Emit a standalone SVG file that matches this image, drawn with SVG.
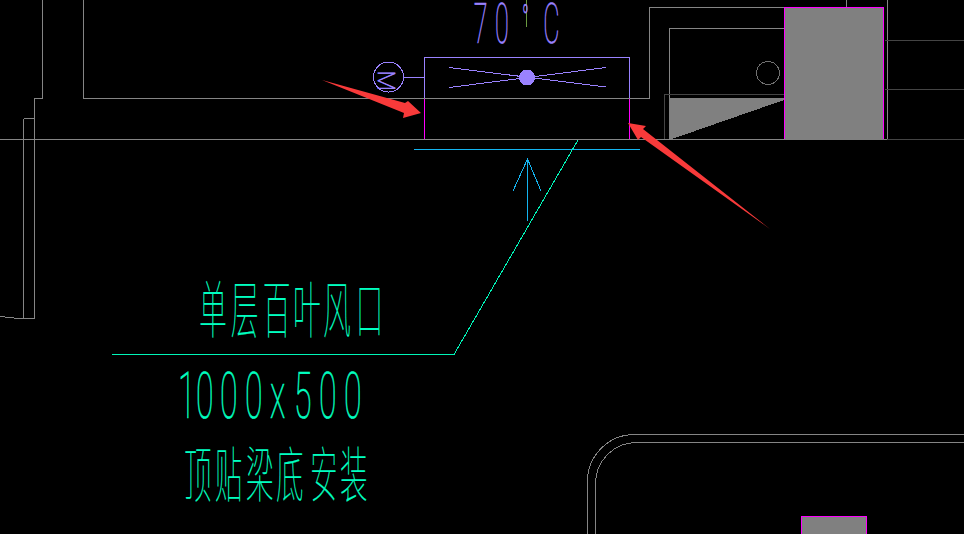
<svg xmlns="http://www.w3.org/2000/svg" width="964" height="534" viewBox="0 0 964 534">
<style>
path,circle,rect{shape-rendering:crispEdges}
.g{fill:none;stroke:#858585;stroke-width:1}
.d{fill:none;stroke:#444;stroke-width:1}
.m{fill:none;stroke:#f0f;stroke-width:1}
.p{fill:none;stroke:#9a82ff;stroke-width:1}
.c{fill:none;stroke:#14b4f0;stroke-width:1}
.t{fill:none;stroke:#00f5b8;stroke-width:1}
.cjk{font-family:"Noto Sans CJK SC","Noto Sans",sans-serif;font-weight:100;fill:#00ffc0;stroke:#00ffc0;stroke-width:.2}
.num{font-family:Roboto,"Liberation Sans",sans-serif;font-weight:100;fill:#00ffc0;stroke:#00ffc0;stroke-width:.7}
.pt{font-family:Roboto,"Liberation Sans",sans-serif;font-weight:100;fill:#9a82ff;stroke:#9a82ff;stroke-width:.7}
.r{fill:#f83a3a;shape-rendering:auto}
</style>
<rect width="964" height="534" fill="#000"/>
<g id="building">
<path class="g" d="M0 139.500H887M83.500 0V98.500H649.500V7.500H784M42.500 0V98.500H34.500V318.500H19L9 317.500L0 316.500M23.500 118.500H34.500M23.500 118.500V318.500M669.500 98V28.500H784"/>
<path class="g" d="M887.500 0V139M846.500 0V7"/>
<path class="d" d="M887 139.500H964M885 40.500H964M885 89.500H964M664.500 139V94.500H789.500V139"/>
<circle cx="768" cy="73" r="11.500" fill="none" stroke="#707070"/>
<path d="M669 98H784V100L672 139H669Z" fill="#808080"/>
<rect x="784.500" y="7.500" width="99" height="132" fill="#808080"/>
<path class="m" d="M784.500 139V7.500H883.500V139"/>
</g>
<g id="lower-room">
<path class="g" d="M587.500 534V482A47 47 0 0 1 634.500 434.500H964M595.500 534V484A41 41 0 0 1 636.500 442.500H964"/>
<rect x="801.500" y="516.500" width="65" height="20" fill="#808080" stroke="#f0f" stroke-width="1.500"/>
</g>
<g id="fan-unit">
<path class="p" d="M424.500 98V57.500H629.500V98M449 67.500L606 87M449 87.500L606 67.500"/>
<circle cx="527" cy="77.500" r="8" fill="#9a82ff"/>
<path class="m" d="M424.500 99V139M629.500 99V139"/>
</g>
<g id="motor">
<circle class="p" cx="388.500" cy="77" r="15"/>
<path class="p" d="M404 77.500H424"/>
<text class="pt" transform="translate(378,70.500) rotate(90)" font-size="24">M</text>
</g>
<g id="temp-label">
<path d="M526.500 0V27" fill="none" stroke="#6a9a40"/>
<text class="pt" font-size="56" transform="translate(0,43) scale(.45,1)" x="1053 1100 1160 1207">70<tspan font-size="40" dy="-10">°</tspan><tspan dy="10">C</tspan></text>
</g>
<g id="connectors">
<path class="c" d="M414 149.500H640M527.500 221V159M513 191L527.500 159L541 191"/>
<path class="t" d="M578 140L454 354.500H112"/>
</g>
<g id="labels">
<text class="cjk" font-size="62" transform="translate(0,333) scale(.45,1)" x="442 513 584 651 718 790">单层百叶风口</text>
<text class="num" font-size="64" transform="translate(0,418) scale(.5,1)" x="356 392 440 490 540 588 638 688">1000x500</text>
<text class="cjk" font-size="60" transform="translate(0,497) scale(.46,1)" x="400 467 535 600 674 739">顶贴梁底安装</text>
</g>
<g id="red-arrows">
<path class="r" d="M322 80L405 103L408 101L421 113L403 118L404 113Z"/>
<path class="r" d="M770 229L643 129L646 126L628 123L638 140L641 137Z"/>
</g>
</svg>
